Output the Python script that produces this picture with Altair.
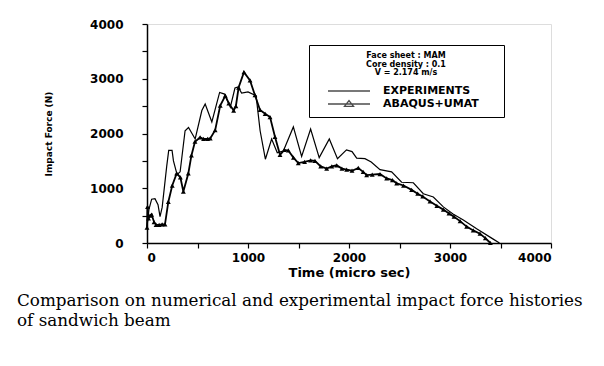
import altair as alt
import pandas as pd

exp_time = [0, 20, 46, 79, 109, 129, 150, 195, 215, 248, 262, 298, 328, 377, 411, 477, 543, 576, 642, 719,
            768, 825, 871, 901, 937, 1000, 1080, 1120, 1172, 1234, 1290, 1350, 1449, 1531, 1620, 1705, 1805, 1886, 1975, 2030,
            2076, 2158, 2220, 2307, 2422, 2521, 2637, 2736, 2835, 2934, 3030, 3132, 3264, 3420, 3490]
exp_force = [300, 620, 800, 810, 700, 480, 650, 1400, 1690, 1690, 1500, 1250, 1300, 2050, 2110, 1900, 2420, 2540, 2210, 2750,
             2720, 2480, 2830, 2850, 2740, 2760, 2690, 2050, 1530, 1900, 1650, 1680, 2120, 1580, 2080, 1560, 1900, 1540, 1700, 1670,
             1550, 1540, 1480, 1340, 1300, 1110, 1100, 900, 840, 660, 530, 420, 260, 80, 0]

abq_time = [0, 5, 15, 30, 46, 70, 90, 120, 150, 178, 211, 250, 294, 330, 360, 409, 440, 475, 526, 560,
            600, 626, 675, 725, 775, 810, 858, 880, 907, 960, 1020, 1069, 1119, 1170, 1218, 1267, 1317, 1360, 1399, 1450,
            1498, 1560, 1620, 1663, 1720, 1779, 1830, 1878, 1930, 1977, 2030, 2092, 2140, 2175, 2230, 2307, 2373, 2430, 2472, 2540,
            2620, 2680, 2730, 2802, 2870, 2934, 2990, 3040, 3100, 3165, 3230, 3297, 3350, 3400]
abq_force = [280, 660, 450, 500, 520, 380, 330, 330, 340, 340, 750, 1050, 1270, 1200, 940, 1270, 1600, 1850, 1930, 1900,
             1900, 1910, 2060, 2510, 2690, 2550, 2420, 2500, 2840, 3120, 2970, 2700, 2430, 2360, 2300, 1940, 1610, 1700, 1690, 1560,
             1460, 1480, 1510, 1500, 1400, 1360, 1400, 1420, 1360, 1340, 1320, 1370, 1300, 1240, 1250, 1260, 1180, 1150, 1090, 1050,
             970, 900, 850, 760, 680, 610, 540, 480, 400, 300, 230, 170, 90, 0]

series_names = ["EXPERIMENTS", "ABAQUS+UMAT"]
legend_header = ["Face sheet : MAM", "Core density : 0.1", "V = 2.174 m/s"]
caption_lines = ["Comparison on numerical and experimental impact force histories", "of sandwich beam"]
tick_values = [0, 500, 1000, 1500, 2000, 2500, 3000, 3500, 4000]
x_title = "Time (micro sec)"
y_title = "Impact Force (N)"

exp_df = pd.DataFrame({"t": exp_time, "F": exp_force, "series": series_names[0]})
abq_df = pd.DataFrame({"t": abq_time, "F": abq_force, "series": series_names[1]})
legend_df = pd.DataFrame({"series": series_names})

FONT = "DejaVu Sans"
label_expr = "datum.value % 1000 == 0 ? datum.label : ''"

x_enc = alt.X("t:Q", scale=alt.Scale(domain=[0, 4000], nice=False),
              axis=alt.Axis(values=tick_values, labelExpr=label_expr, format="d", title=x_title,
                            tickSize=5, labelPadding=4, titlePadding=3, grid=False,
                            labelFont=FONT, labelFontWeight="bold", labelFontSize=12,
                            titleFont=FONT, titleFontWeight="bold", titleFontSize=13,
                            domainColor="black", tickColor="black", labelColor="black", titleColor="black",
                            domainWidth=1.5, tickWidth=1.2))
y_enc = alt.Y("F:Q", scale=alt.Scale(domain=[0, 4000], nice=False),
              axis=alt.Axis(values=tick_values, labelExpr=label_expr, format="d", title=y_title,
                            tickSize=5, labelPadding=19, titlePadding=36, grid=False,
                            labelFont=FONT, labelFontWeight="bold", labelFontSize=12,
                            titleFont=FONT, titleFontWeight="bold", titleFontSize=9,
                            domainColor="black", tickColor="black", labelColor="black", titleColor="black",
                            domainWidth=1.5, tickWidth=1.2))

exp_line = alt.Chart(exp_df).mark_line(color="black", strokeWidth=1.2).encode(x=x_enc, y=y_enc)
abq_line = alt.Chart(abq_df).mark_line(color="black", strokeWidth=1.8).encode(x=x_enc, y=y_enc)
abq_pts = alt.Chart(abq_df).mark_point(shape="triangle-up", filled=True, size=24, color="black", opacity=1).encode(x=x_enc, y=y_enc)

line_path = "M-3,0H3"
tri_path = "M-3,0H3M-0.65,0.35L0,-0.5L0.65,0.35Z"

legend_layer = alt.Chart(legend_df).transform_filter("false").mark_point(
    filled=False, color="black", strokeWidth=1.3
).encode(
    shape=alt.Shape("series:N",
                    scale=alt.Scale(domain=series_names, range=[line_path, tri_path]),
                    legend=alt.Legend(title=legend_header, orient="none", legendX=162, legendY=21,
                                      titleAnchor="middle", titleAlign="center",
                                      titleFont=FONT, titleFontWeight="bold", titleFontSize=8,
                                      titleLineHeight=8.5, titlePadding=6, titleColor="black",
                                      padding=7, strokeColor="black", fillColor="white",
                                      symbolSize=196, symbolStrokeWidth=1.3, symbolStrokeColor="black",
                                      symbolFillColor="white", symbolOffset=25,
                                      labelExpr="datum.label + '\u2800\u2800'",
                                      labelFont=FONT, labelFontWeight="bold", labelFontSize=11,
                                      labelOffset=26, labelColor="black", rowPadding=0))
)

chart = alt.layer(exp_line, abq_line, abq_pts, legend_layer).properties(
    width=404, height=219,
    autosize=alt.AutoSizeParams(type="none"),
    padding={"left": 139, "top": 16, "right": 45, "bottom": 115},
    title=alt.TitleParams(text=caption_lines, orient="bottom", anchor="start", frame="group", dx=-130, offset=14,
                          font="DejaVu Serif", fontSize=16.8, fontWeight="normal", lineHeight=20,
                          color="black"),
).configure_view(stroke="black", strokeWidth=1.5).configure(background="white")

chart.save("out.html", embed_options={"renderer": "svg", "actions": False})
